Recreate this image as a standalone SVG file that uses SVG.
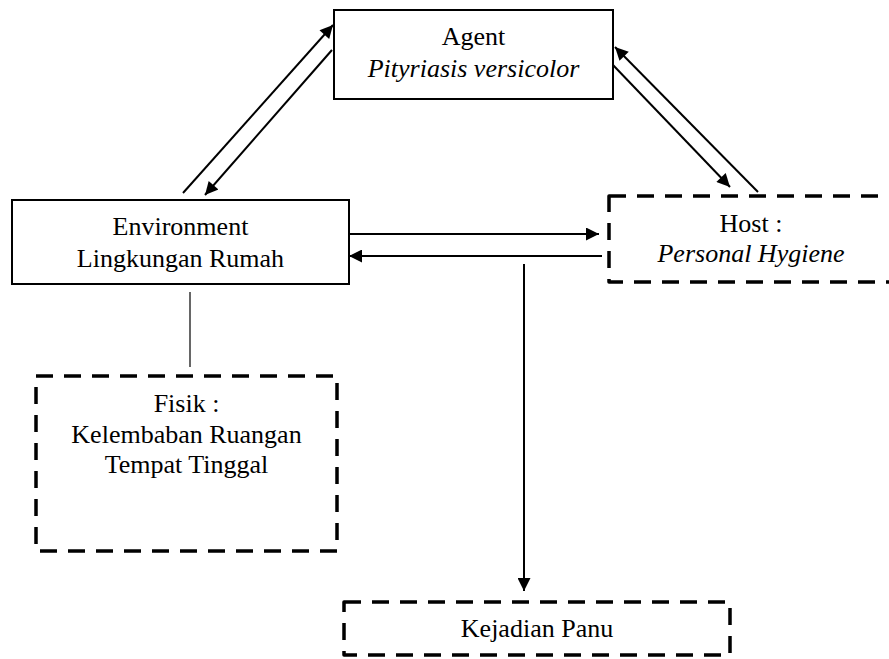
<svg xmlns="http://www.w3.org/2000/svg" width="889" height="659" viewBox="0 0 889 659">
<style>
.solid{fill:#fff;stroke:#000;stroke-width:2}
.dash{fill:#fff;stroke:#000;stroke-width:3.5;stroke-dasharray:17 11;stroke-linejoin:round}
text{font-family:'Liberation Serif','Times New Roman',Times,serif;font-size:26px;fill:#000;text-anchor:middle}
.i{font-style:italic}
.c{stroke:#000;stroke-width:2;fill:none}
</style>
<defs>
<marker id="ah" viewBox="0 0 10 10" refX="10" refY="5" markerWidth="15" markerHeight="13" markerUnits="userSpaceOnUse" orient="auto">
<path d="M0,0 L10,5 L0,10 z" fill="#000"/>
</marker>
</defs>
<rect width="889" height="659" fill="#fff"/>
<g id="connectors">
<line class="c" x1="183" y1="193" x2="333" y2="25" marker-end="url(#ah)"/>
<line class="c" x1="332" y1="50" x2="205" y2="195" marker-end="url(#ah)"/>
<line class="c" x1="613" y1="65" x2="730" y2="187" marker-end="url(#ah)"/>
<line class="c" x1="758" y1="192" x2="615" y2="47" marker-end="url(#ah)"/>
<line class="c" x1="349" y1="234" x2="599" y2="234" marker-end="url(#ah)"/>
<line class="c" x1="602" y1="256" x2="349" y2="256" marker-end="url(#ah)"/>
<line class="c" x1="524" y1="264" x2="524" y2="591" marker-end="url(#ah)"/>
<line x1="190" y1="292" x2="190" y2="367" stroke="#000" stroke-width="1.2"/>
</g>
<g id="agent">
<rect class="solid" x="334" y="10" width="279" height="89"/>
<text x="473.5" y="45">Agent</text>
<text class="i" x="473.5" y="77">Pityriasis versicolor</text>
</g>
<g id="environment">
<rect class="solid" x="12" y="200" width="337" height="84"/>
<text x="180.5" y="235">Environment</text>
<text x="180.5" y="267">Lingkungan Rumah</text>
</g>
<g id="host">
<rect class="dash" x="609" y="196" width="300" height="86"/>
<text x="751" y="232">Host :</text>
<text class="i" x="751" y="262">Personal Hygiene</text>
</g>
<g id="fisik">
<rect class="dash" x="36" y="376" width="301" height="175"/>
<text x="186.5" y="412">Fisik :</text>
<text x="186.5" y="443">Kelembaban Ruangan</text>
<text x="186.5" y="473">Tempat Tinggal</text>
</g>
<g id="kejadian">
<rect class="dash" x="344" y="602" width="386" height="53"/>
<text x="537" y="637">Kejadian Panu</text>
</g>
</svg>
